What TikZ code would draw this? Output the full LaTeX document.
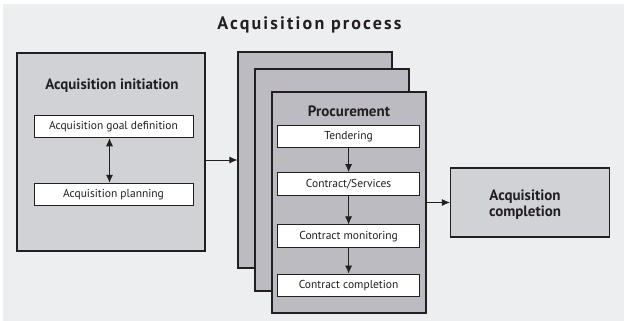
\documentclass[tikz,border=0pt]{standalone}
\usepackage{fontspec}
\setmainfont{PT Sans}
\usetikzlibrary{arrows.meta}
\definecolor{pagegray}{HTML}{EDEEF0}
\definecolor{panelgray}{HTML}{D1D2D6}
\definecolor{stackgray}{HTML}{BBBBC1}
\definecolor{inkdark}{HTML}{231F20}

\begin{document}
\begin{tikzpicture}[x=1pt, y=-1pt, every node/.style={align=center, text=inkdark},
  panel/.style={draw=inkdark, line width=1.1pt, fill=panelgray, inner sep=0pt},
  sheet/.style={draw=inkdark, line width=1.1pt, fill=stackgray, inner sep=0pt, minimum width=154pt},
  stepbox/.style={draw=inkdark, line width=1pt, fill=white, inner sep=0pt, minimum height=22.5pt, font=\fontsize{11.5}{13}\selectfont},
  heading/.style={anchor=base, font=\fontsize{15}{17}\selectfont\bfseries},
  arr/.style={draw=inkdark, line width=0.8pt, -{Latex[length=8pt,width=7pt]}}]
\useasboundingbox (0,0) rectangle (624,321);
% Background
\fill[pagegray] (3,4) rectangle (624,321);
\node[anchor=base, font=\fontsize{18}{20}\selectfont\bfseries\addfontfeatures{LetterSpace=12}] (title) at (309.5,29.3) {Acquisition process};

% Acquisition initiation
\node[panel, minimum width=188pt, minimum height=198pt] (initiation) at (111,152) {};
\node[heading] (initlabel) at (112,89.5) {Acquisition initiation};
\node[stepbox, minimum width=159pt] (goal) at (113.5,126.5) {Acquisition goal definition};
\node[stepbox, minimum width=159pt] (planning) at (113.5,194.5) {Acquisition planning};
\draw[draw=inkdark, line width=0.8pt, {Latex[length=8pt,width=7pt]}-{Latex[length=8pt,width=7pt]}] ([xshift=-4pt]goal.south) -- ([xshift=-4pt]planning.north);

% Procurement (stacked sheets)
\node[sheet, minimum height=216pt] (sheetback) at (315,160) {};
\node[sheet, minimum height=222pt] (sheetmid) at (332,180) {};
\node[sheet, minimum height=221pt] (procure) at (349,202.5) {};
\node[heading] (proclabel) at (349,116.7) {Procurement};
\node[stepbox, minimum width=142.5pt] (tender) at (348.6,136.5) {Tendering};
\node[stepbox, minimum width=142.5pt] (services) at (348.6,183.8) {Contract/Services};
\node[stepbox, minimum width=142.5pt] (monitor) at (348.6,236.2) {Contract monitoring};
\node[stepbox, minimum width=142.5pt] (contractend) at (348.6,285.3) {Contract completion};

% Acquisition completion
\node[panel, minimum width=159pt, minimum height=69pt] (completion) at (530,202.5) {};
\node[heading, font=\fontsize{15}{16.7}\selectfont\bfseries] (complabel) at (525,216.7) {Acquisition\\completion};

% Arrows
\draw[arr] (sheetback.west -| initiation.east) -- (sheetback.west);
\draw[arr] (tender) -- (services);
\draw[arr] (services) -- (monitor);
\draw[arr] (monitor) -- (contractend);
\draw[arr] (procure.east) -- (completion.west);
\end{tikzpicture}
\end{document}
